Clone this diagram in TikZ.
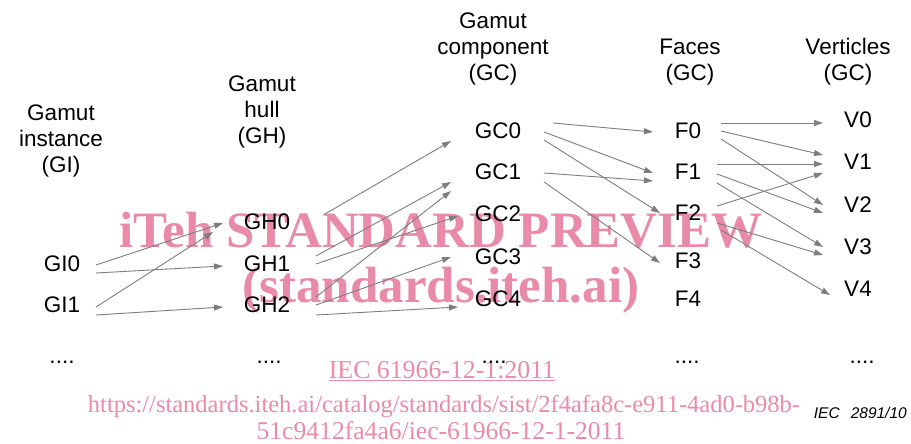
\documentclass[tikz,border=0pt]{standalone}
\usepackage{fontspec}
\setmainfont{Liberation Sans}
\newfontfamily\wmserif{Liberation Serif}
\usetikzlibrary{arrows.meta}
\definecolor{wmpink}{RGB}{233,139,168}
\definecolor{arrgray}{RGB}{125,125,125}

\begin{document}
\begin{tikzpicture}[x=1pt,y=-1pt,
  item/.style={font=\fontsize{22.5}{26}\selectfont, inner sep=0pt},
  head/.style={font=\fontsize{22.5}{26}\selectfont, align=center, inner sep=0pt},
  dots/.style={font=\fontsize{22.5}{26}\selectfont, inner sep=0pt, anchor=base},
  arr/.style={draw=arrgray, line width=0.9pt, -{Triangle[length=9pt,width=6pt]}},
  wmbig/.style={text=wmpink, font=\wmserif\bfseries\fontsize{51}{51}\selectfont, inner sep=0pt, anchor=base},
  wmsmall/.style={text=wmpink, font=\wmserif\fontsize{25}{25}\selectfont, inner sep=0pt, anchor=base}
]
\useasboundingbox (0,0) rectangle (911,444);

% watermark layer
\node[wmbig] (wmA) at (441,247) {iTeh STANDARD PREVIEW};
\node[wmbig] (wmB) at (441,302) {(standards.iteh.ai)};
\node[wmsmall, font=\wmserif\fontsize{25.8}{26}\selectfont] (wmC) at (442,378) {\underline{IEC 61966-12-1:2011}};
\node[wmsmall, font=\wmserif\fontsize{24.5}{25}\selectfont] (wmD) at (444,412) {https://standards.iteh.ai/catalog/standards/sist/2f4afa8c-e911-4ad0-b98b-};
\node[wmsmall, font=\wmserif\fontsize{25.6}{26}\selectfont] (wmE) at (441,439) {51c9412fa4a6/iec-61966-12-1-2011};

% column headings
\node[head] (hGI) at (61,141) {Gamut\\instance\\(GI)};
\node[head] (hGH) at (262,112) {Gamut\\hull\\(GH)};
\node[head] (hGC) at (493,49) {Gamut\\component\\(GC)};
\node[head] (hF)  at (690,62) {Faces\\(GC)};
\node[head] (hV)  at (848,62) {Verticles\\(GC)};

% instances
\node[item] (GI0) at (62,264) {GI0};
\node[item] (GI1) at (62,305) {GI1};
% hulls
\node[item] (GH0) at (267,222) {GH0};
\node[item] (GH1) at (267,264) {GH1};
\node[item] (GH2) at (267,305) {GH2};
% components
\node[item] (GC0) at (498,131) {GC0};
\node[item] (GC1) at (498,172) {GC1};
\node[item] (GC2) at (498,214) {GC2};
\node[item] (GC3) at (498,257) {GC3};
\node[item] (GC4) at (498,299) {GC4};
% faces
\node[item] (F0) at (688,131) {F0};
\node[item] (F1) at (688,172) {F1};
\node[item] (F2) at (688,213) {F2};
\node[item] (F3) at (688,261) {F3};
\node[item] (F4) at (688,299) {F4};
% vertices
\node[item] (V0) at (858,120) {V0};
\node[item] (V1) at (858,162) {V1};
\node[item] (V2) at (858,205) {V2};
\node[item] (V3) at (858,247) {V3};
\node[item] (V4) at (858,289) {V4};

% continuation marks
\node[dots] (dGI) at (62,363) {....};
\node[dots] (dGH) at (269,363) {....};
\node[dots] (dGC) at (494,363) {....};
\node[dots] (dF)  at (687,363) {....};
\node[dots] (dV)  at (862,363) {....};

% instance -> hull
\draw[arr] ([shift={(34,1)}]GI0.center) -- ([shift={(-44,1)}]GH0.center);
\draw[arr] ([shift={(34,9)}]GI0.center) -- ([shift={(-44,2)}]GH1.center);
\draw[arr] ([shift={(34,2)}]GI1.center) -- ([shift={(-54,10)}]GH0.center);
\draw[arr] ([shift={(34,10)}]GI1.center) -- ([shift={(-44,2)}]GH2.center);
% hull -> component
\draw[arr] ([shift={(58,-8)}]GH0.center) -- ([shift={(-47,10)}]GC0.center);
\draw[arr] ([shift={(49,-8)}]GH1.center) -- ([shift={(-47,10)}]GC1.center);
\draw[arr] ([shift={(49,0)}]GH1.center) -- ([shift={(-40,2)}]GC2.center);
\draw[arr] ([shift={(49,-8)}]GH2.center) -- ([shift={(-47,19)}]GC1.center);
\draw[arr] ([shift={(49,0)}]GH2.center) -- ([shift={(-47,0)}]GC3.center);
\draw[arr] ([shift={(49,10)}]GH2.center) -- ([shift={(-40,8)}]GC4.center);
% component -> face
\draw[arr] ([shift={(55,-8)}]GC0.center) -- ([shift={(-35,1)}]F0.center);
\draw[arr] ([shift={(46,1)}]GC0.center) -- ([shift={(-35,1)}]F1.center);
\draw[arr] ([shift={(46,9)}]GC0.center) -- ([shift={(-28,0)}]F2.center);
\draw[arr] ([shift={(46,1)}]GC1.center) -- ([shift={(-35,9)}]F1.center);
\draw[arr] ([shift={(46,10)}]GC1.center) -- ([shift={(-28,2)}]F3.center);
% face -> vertex
\draw[arr] ([shift={(33,-8)}]F0.center) -- ([shift={(-35,3)}]V0.center);
\draw[arr] ([shift={(33,0)}]F0.center) -- ([shift={(-35,-7)}]V1.center);
\draw[arr] ([shift={(33,8)}]F0.center) -- ([shift={(-35,0)}]V2.center);
\draw[arr] ([shift={(29,-8)}]F1.center) -- ([shift={(-35,2)}]V1.center);
\draw[arr] ([shift={(29,2)}]F1.center) -- ([shift={(-35,8)}]V2.center);
\draw[arr] ([shift={(29,11)}]F1.center) -- ([shift={(-35,0)}]V3.center);
\draw[arr] ([shift={(29,-7)}]F2.center) -- ([shift={(-35,11)}]V1.center);
\draw[arr] ([shift={(29,10)}]F2.center) -- ([shift={(-35,8)}]V3.center);
\draw[arr] ([shift={(33,17)}]F2.center) -- ([shift={(-28,6)}]V4.center);

% figure number
\node[font=\itshape\fontsize{15.5}{16}\selectfont, inner sep=0pt, anchor=base east] (fig) at (907,418) {IEC\hspace{11pt}2891/10};
\end{tikzpicture}
\end{document}
